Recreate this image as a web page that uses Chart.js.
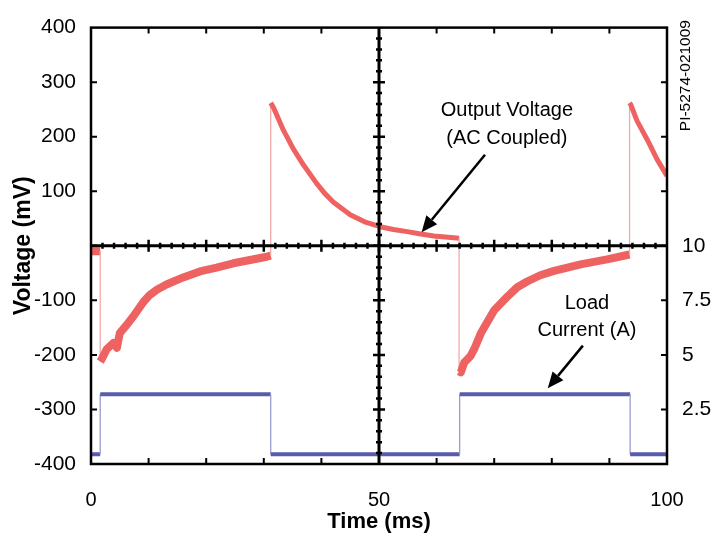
<!DOCTYPE html>
<html><head><meta charset="utf-8">
<script src="https://cdn.jsdelivr.net/npm/chart.js@4"></script>
<style>html,body{margin:0;padding:0;background:#fff}</style>
</head><body>
<canvas id="c" width="714" height="535"></canvas>
<script>
// ---- data ----
// Output voltage (AC coupled), mV vs time, ms
const voltTime = [0, 1.6, 1.6, 1.85, 2.7, 3.9, 4.5, 5.0, 6.2, 7.3, 9.1, 10.2, 11.5, 13.1, 16.0, 18.9, 21.8, 24.7, 27.6, 30.5, 31.2,
  31.2, 31.7, 33.4, 35.1, 36.9, 39.2, 40.5, 42.1, 45.0, 47.5, 50.2, 52.5, 54.9, 57.0, 59.5, 61.5, 63.9,
  63.9, 64.2, 64.8, 65.9, 66.5, 67.7, 70.0, 72.3, 74.0, 75.8, 78.0, 80.4, 85.0, 89.6, 93.5,
  93.5, 93.7, 94.8, 96.6, 98.3, 100];
const voltValues = [-10, -10, -212, -208, -190, -178, -187, -160, -145, -130, -103, -90, -80, -71, -58, -47, -40, -32, -26, -20, -18,
  262, 253, 212, 178, 148, 114, 97, 80, 57, 44, 35, 30, 26, 22, 18, 16, 14,
  -230, -232, -214, -202, -190, -160, -118, -93, -76, -65, -54, -46, -34, -25, -16,
  262, 259, 229, 194, 158, 128];
// Load current, A vs time, ms
const currTime = [0, 1.6, 1.6, 31.2, 31.2, 64.0, 64.0, 93.6, 93.6, 100];
const currValues = [0.45, 0.45, 3.2, 3.2, 0.45, 0.45, 3.2, 3.2, 0.45, 0.45];
// tick labels
const xTickLabels = [0, 50, 100];
const yTickLabels = [-400, -300, -200, -100, 100, 200, 300, 400];
const currTickLabels = [2.5, 5, 7.5, 10];
// annotations (data coordinates: ms, mV)
const noteVoltText = ['Output Voltage', '(AC Coupled)'];
const noteVoltPos = [[72.2, 248], [72.2, 196]];
const noteVoltArrow = [[68.4, 167], [57.4, 25]];
const noteCurrText = ['Load', 'Current (A)'];
const noteCurrPos = [[86.1, -106], [86.1, -156]];
const noteCurrArrow = [[85.4, -183], [79.3, -261]];
const figureId = 'PI-5274-021009';

const FONT = '"Liberation Sans", Arial, Helvetica, sans-serif';
const RED = '#ee6262', RED_EDGE = '#f2a8a8';
const BLUE = '#5a5cab', BLUE_EDGE = '#9a9ccf';

const voltData = voltTime.map((t, i) => ({x: t, y: voltValues[i]}));
const currData = currTime.map((t, i) => ({x: t, y: currValues[i]}));
const isEdge = ctx => Math.abs(ctx.p0.parsed.x - ctx.p1.parsed.x) < 0.01;

function arrow(ctx, x0, y0, x1, y1) {
  const ang = Math.atan2(y1 - y0, x1 - x0), L = 16, W = 7;
  const bx = x1 - L * Math.cos(ang), by = y1 - L * Math.sin(ang);
  ctx.beginPath(); ctx.moveTo(x0, y0); ctx.lineTo(bx, by); ctx.stroke();
  ctx.beginPath();
  ctx.moveTo(x1, y1);
  ctx.lineTo(bx + W * Math.sin(ang), by - W * Math.cos(ang));
  ctx.lineTo(bx - W * Math.sin(ang), by + W * Math.cos(ang));
  ctx.closePath(); ctx.fill();
}

const graticule = {
  id: 'graticule',
  afterDatasetsDraw(chart) {
    const {ctx, chartArea: a, scales: {x, y}} = chart;
    ctx.save();
    ctx.strokeStyle = '#000'; ctx.fillStyle = '#000';
    ctx.lineWidth = 2.5;
    ctx.strokeRect(a.left, a.top, a.right - a.left, a.bottom - a.top);
    ctx.lineWidth = 2;
    ctx.beginPath();
    for (let t = 10; t < 100; t += 10) {
      const px = x.getPixelForValue(t);
      ctx.moveTo(px, a.top); ctx.lineTo(px, a.top + 6);
      ctx.moveTo(px, a.bottom); ctx.lineTo(px, a.bottom - 6);
    }
    for (let v = -300; v <= 300; v += 100) {
      const py = y.getPixelForValue(v);
      ctx.moveTo(a.left, py); ctx.lineTo(a.left + 6, py);
      ctx.moveTo(a.right, py); ctx.lineTo(a.right - 6, py);
    }
    ctx.stroke();
    const cx = x.getPixelForValue(50), cy = y.getPixelForValue(0);
    ctx.lineWidth = 3;
    ctx.beginPath();
    ctx.moveTo(a.left, cy); ctx.lineTo(a.right, cy);
    ctx.moveTo(cx, a.top); ctx.lineTo(cx, a.bottom);
    ctx.stroke();
    ctx.lineWidth = 2.5;
    ctx.beginPath();
    for (let t = 2; t < 100; t += 2) {
      const px = x.getPixelForValue(t), L = t % 10 === 0 ? 6 : 3;
      ctx.moveTo(px, cy - L); ctx.lineTo(px, cy + L);
    }
    for (let v = -380; v < 400; v += 20) {
      const py = y.getPixelForValue(v), L = v % 100 === 0 ? 6 : 3;
      ctx.moveTo(cx - L, py); ctx.lineTo(cx + L, py);
    }
    ctx.stroke();
    // annotations
    ctx.font = '20px ' + FONT;
    ctx.textAlign = 'center'; ctx.textBaseline = 'middle';
    noteVoltText.forEach((s, i) => ctx.fillText(s, x.getPixelForValue(noteVoltPos[i][0]), y.getPixelForValue(noteVoltPos[i][1])));
    noteCurrText.forEach((s, i) => ctx.fillText(s, x.getPixelForValue(noteCurrPos[i][0]), y.getPixelForValue(noteCurrPos[i][1])));
    ctx.lineWidth = 2.5;
    arrow(ctx, x.getPixelForValue(noteVoltArrow[0][0]), y.getPixelForValue(noteVoltArrow[0][1]),
               x.getPixelForValue(noteVoltArrow[1][0]), y.getPixelForValue(noteVoltArrow[1][1]));
    arrow(ctx, x.getPixelForValue(noteCurrArrow[0][0]), y.getPixelForValue(noteCurrArrow[0][1]),
               x.getPixelForValue(noteCurrArrow[1][0]), y.getPixelForValue(noteCurrArrow[1][1]));
    // figure id
    ctx.save();
    ctx.translate(686, y.getPixelForValue(312));
    ctx.rotate(-Math.PI / 2);
    ctx.font = '15.5px ' + FONT;
    ctx.fillText(figureId, 0, 0);
    ctx.restore();
    ctx.restore();
  }
};

new Chart(document.getElementById('c'), {
  type: 'line',
  data: {
    datasets: [
      {label: 'Output Voltage (AC Coupled)', data: voltData, yAxisID: 'y', parsing: false,
       borderColor: RED, borderWidth: 5, pointRadius: 0, tension: 0,
       borderJoinStyle: 'round', borderCapStyle: 'butt',
       segment: {
         borderWidth: c => isEdge(c) ? 1.3 : ((c.p0.parsed.y + c.p1.parsed.y) / 2 < -5 ? 8 : 5),
         borderColor: c => isEdge(c) ? RED_EDGE : RED
       }},
      {label: 'Load Current (A)', data: currData, yAxisID: 'y2', parsing: false,
       borderColor: BLUE, borderWidth: 4, pointRadius: 0, tension: 0,
       segment: {
         borderWidth: c => isEdge(c) ? 1.3 : 4,
         borderColor: c => isEdge(c) ? BLUE_EDGE : BLUE
       }}
    ]
  },
  options: {
    responsive: false, animation: false, devicePixelRatio: 1,
    layout: {padding: {top: 19, left: 0, right: 0, bottom: 0}},
    plugins: {legend: {display: false}, tooltip: {enabled: false}},
    scales: {
      x: {
        type: 'linear', min: 0, max: 100,
        afterFit: s => { s.height = 71; },
        grid: {display: false, drawTicks: false}, border: {display: false},
        afterBuildTicks: s => { s.ticks = xTickLabels.map(v => ({value: v})); },
        ticks: {padding: 24, color: '#000', font: {family: FONT, size: 20}, maxRotation: 0},
        title: {display: true, text: 'Time (ms)', color: '#000', font: {family: FONT, size: 22, weight: 'bold'}, padding: 0}
      },
      y: {
        type: 'linear', position: 'left', min: -400, max: 400,
        afterFit: s => { s.width = 91; },
        grid: {display: false, drawTicks: false}, border: {display: false},
        afterBuildTicks: s => { s.ticks = yTickLabels.map(v => ({value: v})); },
        ticks: {padding: 15, color: '#000', font: {family: FONT, size: 21}},
        title: {display: true, text: 'Voltage (mV)', color: '#000', font: {family: FONT, size: 23, weight: 'bold'}, padding: {top: 10, bottom: 0}}
      },
      y2: {
        type: 'linear', position: 'right', min: 0, max: 20,
        afterFit: s => { s.width = 47; },
        grid: {display: false, drawTicks: false}, border: {display: false},
        afterBuildTicks: s => { s.ticks = currTickLabels.map(v => ({value: v})); },
        ticks: {padding: 15, color: '#000', font: {family: FONT, size: 21}}
      }
    }
  },
  plugins: [graticule]
});
</script>
</body></html>
